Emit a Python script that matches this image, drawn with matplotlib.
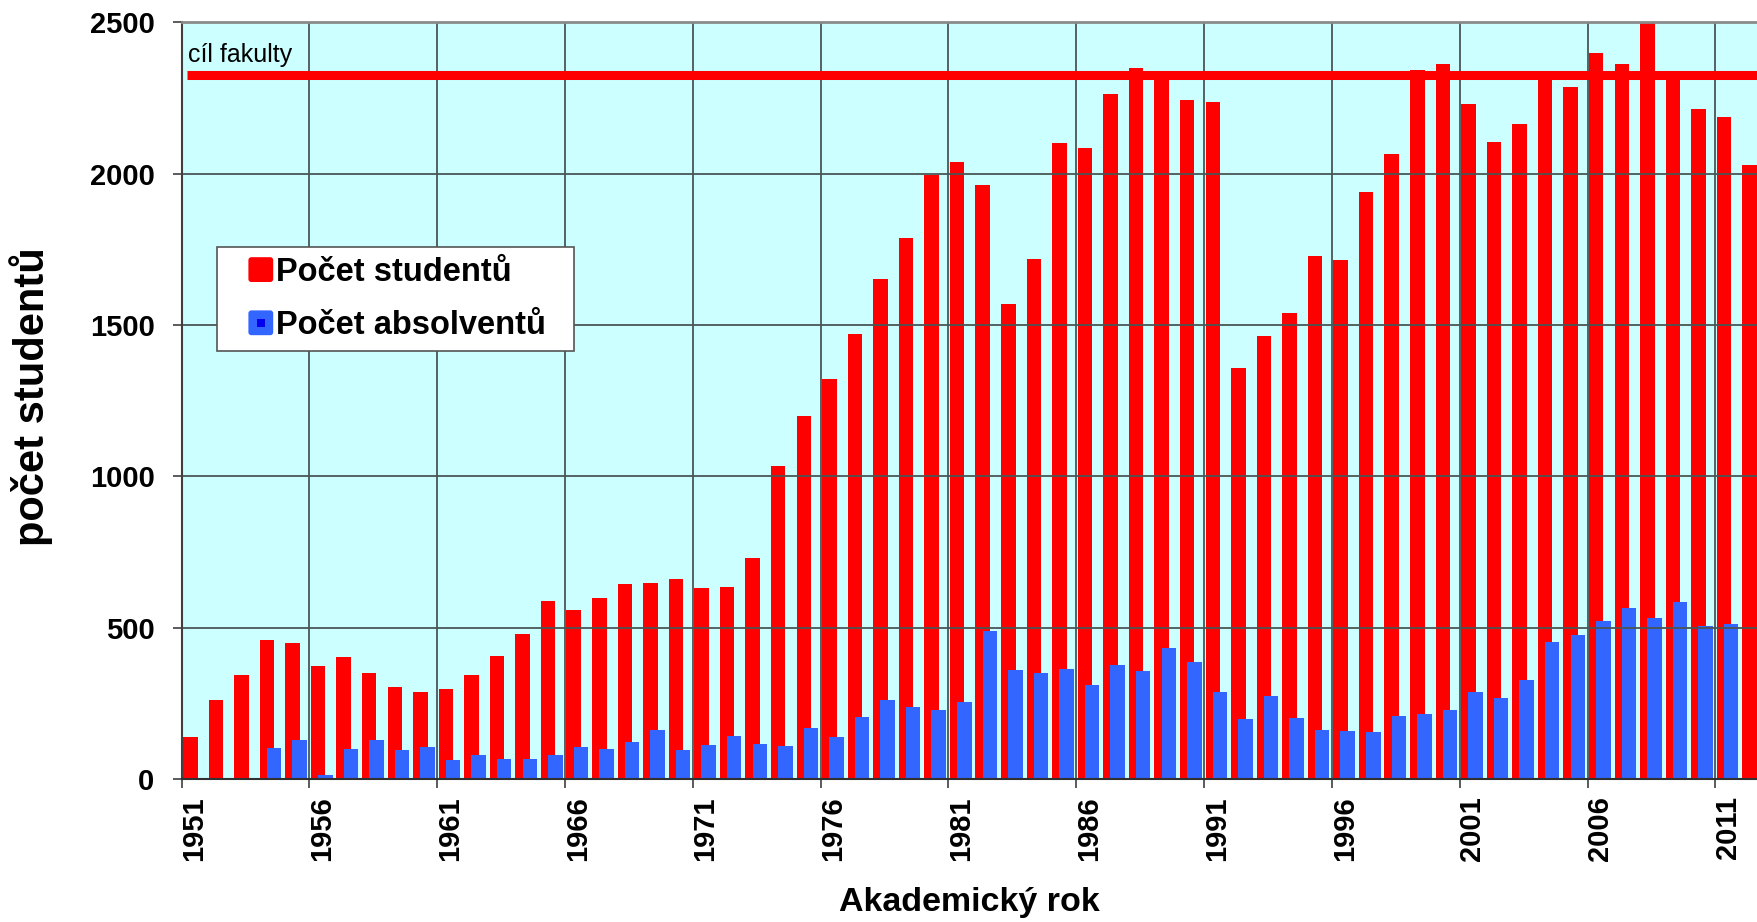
"""
Počet studentů a absolventů fakulty podle akademického roku.
"""

import matplotlib
matplotlib.use('Agg')
import matplotlib.pyplot as plt
from matplotlib.patches import Patch, FancyBboxPatch
from matplotlib.legend_handler import HandlerTuple, HandlerPatch
import numpy as np

# ============================================================
#  DATA
# ============================================================
years = list(range(1951, 2013))

studenti = [138, 260, 343, 460, 450, 372, 402, 350, 303, 287,      # 1951-1960
            298, 345, 408, 480, 589, 560, 598, 646, 647, 662,      # 1961-1970
            630, 633, 732, 1036, 1199, 1322, 1472, 1651, 1788, 1995,  # 1971-1980
            2040, 1963, 1571, 1717, 2103, 2084, 2262, 2351, 2320, 2243,  # 1981-1990
            2238, 1357, 1463, 1541, 1729, 1716, 1940, 2065, 2343, 2361,  # 1991-2000
            2229, 2106, 2165, 2315, 2285, 2399, 2364, 2510, 2315, 2213,  # 2001-2010
            2186, 2028]                                            # 2011-2012

absolventi = [0, 0, 0, 103, 129, 12, 100, 129, 97, 105,            # 1951-1960
              64, 78, 66, 68, 80, 105, 101, 122, 162, 95,          # 1961-1970
              111, 143, 117, 108, 168, 138, 206, 261, 237, 229,    # 1971-1980
              255, 490, 361, 352, 365, 312, 376, 357, 432, 386,    # 1981-1990
              287, 197, 275, 202, 162, 159, 157, 208, 215, 228,    # 1991-2000
              289, 267, 329, 452, 475, 523, 565, 533, 586, 505,    # 2001-2010
              513, 0]                                              # 2011-2012

cil_fakulty = 2325
label_years = years[::5]

# ============================================================
#  PLOT
# ============================================================
plt.rcParams['font.family'] = ['Liberation Sans', 'DejaVu Sans']

RED = '#ff0000'
BLUE = '#3366ff'
GRID = '#4a5555'

fig = plt.figure(figsize=(17.58, 9.22), dpi=100)
ax = fig.add_axes([0.1033, 0.155, 1 - 0.1033, 0.9757 - 0.155])
ax.set_facecolor('#ccffff')

x = np.arange(len(years))
w = 0.567
ax.bar(x - 0.16, studenti, width=w, color=RED, zorder=2)
ax.bar(x + 0.12, absolventi, width=w, color=BLUE, zorder=2.1)

# target line
ax.plot([-0.3, len(years) + 1], [cil_fakulty, cil_fakulty], color=RED, lw=6.5,
        solid_capstyle='butt', zorder=4)
ax.text(-0.25, 2368, 'cíl fakulty', fontsize=18, va='baseline', ha='left', zorder=5)

ax.set_xlim(-0.5, 61.17)
ax.set_ylim(0, 2500)

# y axis
ax.set_yticks(range(0, 2501, 500))
ax.tick_params(axis='y', direction='out', length=6.5, width=1.2, color='#404040',
               pad=13, labelsize=21)
for lbl in ax.get_yticklabels():
    lbl.set_fontweight('bold')

# x axis: ticks on category boundaries, labels centred on categories
bounds = [i - 0.5 for i in range(0, len(years), 5)]
ax.set_xticks(bounds)
ax.set_xticklabels([])
ax.tick_params(axis='x', which='major', direction='out', length=6.5, width=1.2,
               color='#404040')
centers = [years.index(y) for y in label_years]
ax.set_xticks(centers, [str(y) for y in label_years], minor=True)
ax.tick_params(axis='x', which='minor', length=0, pad=12.5, labelsize=21,
               labelrotation=90)
for lbl in ax.get_xticklabels(minor=True):
    lbl.set_fontweight('bold')

ax.grid(True, which='major', color=GRID, lw=1.3, zorder=3)
ax.set_axisbelow(False)
for gl in ax.get_xgridlines() + ax.get_ygridlines():
    gl.set_zorder(3)

ax.spines['right'].set_visible(False)
ax.spines['top'].set_color('#8a8a8a')
ax.spines['top'].set_linewidth(2)
ax.spines['left'].set_color('#404040')
ax.spines['left'].set_linewidth(1.5)
ax.spines['bottom'].set_color('#303030')
ax.spines['bottom'].set_linewidth(1.5)
for s in ax.spines.values():
    s.set_zorder(5)

ax.set_ylabel('počet studentů', fontsize=30, fontweight='bold')
ax.yaxis.set_label_coords(-0.0816, 0.505)
ax.set_xlabel('Akademický rok', fontsize=24.5, fontweight='bold', va='baseline')
ax.xaxis.set_label_coords(0.5, -0.1745)


# legend: rounded squares sitting at the right end of a wider handle box
def outer_square(legend, orig_handle, xdescent, ydescent, width, height, fontsize):
    s = 0.76 * fontsize
    return FancyBboxPatch((-xdescent + width - s, -ydescent + (height - s) / 2), s, s,
                          boxstyle='round,pad=0,rounding_size=%.1f' % (0.12 * s))


def inner_square(legend, orig_handle, xdescent, ydescent, width, height, fontsize):
    s = 0.76 * fontsize
    q = 0.3 * s
    return FancyBboxPatch((-xdescent + width - s / 2 - q / 2, -ydescent + height / 2 - q / 2),
                          q, q, boxstyle='square,pad=0')


h_red = Patch(facecolor=RED, edgecolor='none')
h_blue_out = Patch(facecolor=BLUE, edgecolor='none')
h_blue_in = Patch(facecolor='#0000ee', edgecolor='none')

leg = ax.legend([h_red, (h_blue_out, h_blue_in)],
                ['Počet studentů  ', 'Počet absolventů  '],
                handler_map={h_red: HandlerPatch(patch_func=outer_square),
                             h_blue_out: HandlerPatch(patch_func=outer_square),
                             h_blue_in: HandlerPatch(patch_func=inner_square),
                             tuple: HandlerTuple(ndivide=1, pad=0)},
                loc='upper left', bbox_to_anchor=(0.0225, 0.703),
                prop={'size': 23.5, 'weight': 'bold'},
                frameon=True, fancybox=False, framealpha=1,
                edgecolor='#555555', facecolor='white',
                handlelength=1.42, handleheight=0.8, handletextpad=0.1,
                labelspacing=0.68, borderpad=0.3, borderaxespad=0)
leg.get_frame().set_linewidth(1.2)
leg.set_zorder(6)

fig.savefig('out.png', dpi=100)
